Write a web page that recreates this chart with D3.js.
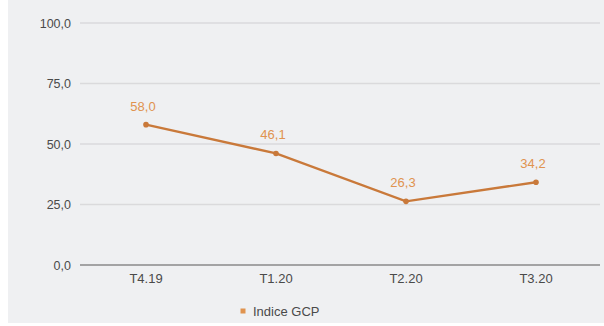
<!DOCTYPE html>
<html>
<head>
<meta charset="utf-8">
<script src="https://cdn.jsdelivr.net/npm/d3@7"></script>
<style>
  html, body { margin: 0; padding: 0; background: #ffffff; }
  svg { display: block; }
</style>
</head>
<body>
<svg id="chart" width="604" height="326"></svg>
<script>
// Quarterly GCP index
const categories = ["T4.19", "T1.20", "T2.20", "T3.20"];
const values = [58.0, 46.1, 26.3, 34.2];
const yTicks = [0, 25, 50, 75, 100];
const seriesName = "Indice GCP";

const W = 604, H = 326;
const FONT = "Liberation Sans, Arial, sans-serif";
const svg = d3.select("#chart");
const fmt = v => d3.format(".1f")(v).replace(".", ",");

// panel background
svg.append("rect").attr("x", 8).attr("y", 0).attr("width", W - 8).attr("height", 323)
  .attr("fill", "#eff0f2");

const x = d3.scaleBand().domain(categories).range([81, 601]);
const y = d3.scaleLinear().domain([0, 100]).range([265, 23]);

// gridlines
svg.append("g").selectAll("line").data(yTicks.filter(t => t > 0)).join("line")
  .attr("x1", 80).attr("x2", 600)
  .attr("y1", d => y(d)).attr("y2", d => y(d))
  .attr("stroke", "#dadadc").attr("stroke-width", 1.6);

// y axis labels
const yAxis = d3.axisLeft(y).tickValues(yTicks).tickFormat(fmt).tickSize(0).tickPadding(0);
const gy = svg.append("g").attr("transform", "translate(71,0)").call(yAxis);
gy.select(".domain").remove();
gy.selectAll("text").attr("font-family", FONT)
  .attr("font-size", 12.5).attr("fill", "#4a4a4a");

// x axis
const xAxis = d3.axisBottom(x).tickSize(0).tickPadding(9);
const gx = svg.append("g").attr("transform", `translate(0,${y(0)})`).call(xAxis);
gx.select(".domain").attr("d", "M80,0H600").attr("stroke", "#8a8a8a").attr("stroke-width", 1.6);
gx.selectAll("text").attr("font-family", FONT)
  .attr("font-size", 13).attr("fill", "#4a4a4a");

const cx = d => x(d) + x.bandwidth() / 2;

// line
const line = d3.line().x((d, i) => cx(categories[i])).y(d => y(d));
svg.append("path").datum(values).attr("d", line)
  .attr("fill", "none").attr("stroke", "#c9793a").attr("stroke-width", 2.4);

// points
svg.append("g").selectAll("circle").data(values).join("circle")
  .attr("cx", (d, i) => cx(categories[i])).attr("cy", d => y(d)).attr("r", 2.8)
  .attr("fill", "#c9793a");

// value labels
svg.append("g").selectAll("text").data(values).join("text")
  .attr("x", (d, i) => cx(categories[i]) - 3).attr("y", d => y(d) - 14)
  .attr("text-anchor", "middle")
  .attr("font-family", FONT).attr("font-size", 13)
  .attr("fill", "#e0934f").text(fmt);

// legend
const lg = svg.append("g").attr("transform", "translate(243,311)");
lg.append("rect").attr("x", -2.5).attr("y", -2.5).attr("width", 5).attr("height", 5).attr("fill", "#e0934f");
lg.append("text").attr("x", 10).attr("y", 4.5)
  .attr("font-family", FONT).attr("font-size", 13)
  .attr("fill", "#4a4a4a").text(seriesName);
</script>
</body>
</html>
